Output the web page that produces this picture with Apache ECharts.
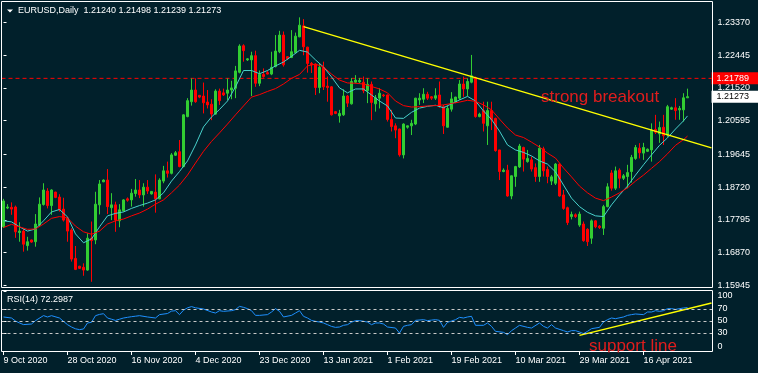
<!DOCTYPE html>
<html><head><meta charset="utf-8">
<script src="https://cdn.jsdelivr.net/npm/echarts@6/dist/echarts.min.js"></script>
<style>html,body{margin:0;padding:0;background:#01202b}#c{width:758px;height:373px}</style>
</head><body><div id="c"></div>
<script>
const symbolName = 'EURUSD,Daily';
const dateLabels = ['9 Oct 2020','28 Oct 2020','16 Nov 2020','4 Dec 2020','23 Dec 2020','13 Jan 2021','1 Feb 2021','19 Feb 2021','10 Mar 2021','29 Mar 2021','16 Apr 2021'];
const LABEL_EVERY = 16;
const SLOTS = 178;

const opens = [1.1760,1.1813,1.1815,1.1816,1.1744,1.1748,1.1707,1.1723,1.1718,1.1765,
1.1823,1.1861,1.1820,1.1858,1.1844,1.1810,1.1784,1.1751,1.1671,1.1649,
1.1646,1.1638,1.1728,1.1723,1.1822,1.1887,1.1892,1.1814,1.1822,1.1777,
1.1805,1.1839,1.1836,1.1854,1.1864,1.1850,1.1872,1.1853,1.1858,1.1839,
1.1889,1.1918,1.1911,1.1962,1.1972,1.1930,1.2071,1.2113,1.2146,1.2131,
1.2129,1.2112,1.2106,1.2078,1.2143,1.2138,1.2137,1.2146,1.2151,1.2196,
1.2271,1.2231,1.2231,1.2243,1.2165,1.2190,1.2195,1.2191,1.2212,1.2254,
1.2301,1.2240,1.2238,1.2251,1.2296,1.2327,1.2267,1.2221,1.2219,1.2153,
1.2210,1.2157,1.2155,1.2085,1.2073,1.2076,1.2129,1.2107,1.2168,1.2169,
1.2168,1.2144,1.2162,1.2107,1.2123,1.2132,1.2132,1.2063,1.2045,1.2036,
1.1963,1.2041,1.2045,1.2050,1.2118,1.2120,1.2134,1.2127,1.2123,1.2132,
1.2099,1.2041,1.2092,1.2113,1.2123,1.2163,1.2149,1.2168,1.2181,1.2071,
1.2088,1.2045,1.2088,1.2066,1.1977,1.1916,1.1920,1.1847,1.1902,1.1929,
1.1984,1.1944,1.1949,1.1927,1.1902,1.1980,1.1922,1.1889,1.1883,1.1937,
1.1850,1.1814,1.1789,1.1794,1.1765,1.1768,1.1753,1.1728,1.1777,1.1762,
1.1756,1.1817,1.1912,1.1869,1.1920,1.1897,1.1902,1.1916,1.1953,1.1982,
1.1968,1.1973,1.1977,1.2035,1.2022,1.2041,1.2019,1.2092,1.2096,1.2090,
1.2090,1.21240];
const highs = [1.1839,1.1824,1.1829,1.1820,1.1773,1.1756,1.1732,1.1724,1.1796,1.1843,
1.1883,1.1869,1.1866,1.1859,1.1852,1.1842,1.1789,1.1756,1.1706,1.1650,
1.1657,1.1742,1.1775,1.1859,1.1892,1.1894,1.1923,1.1855,1.1831,1.1824,
1.1838,1.1843,1.1867,1.1895,1.1892,1.1883,1.1892,1.1861,1.1908,1.1897,
1.1932,1.1944,1.1968,1.1974,1.2005,1.2078,1.2123,1.2179,1.2179,1.2132,
1.2167,1.2146,1.2120,1.2148,1.2150,1.2150,1.2179,1.2172,1.2214,1.2275,
1.2275,1.2236,1.2254,1.2257,1.2201,1.2207,1.2200,1.2254,1.2301,1.2313,
1.2311,1.2242,1.2315,1.2308,1.2351,1.2346,1.2268,1.2225,1.2221,1.2221,
1.2226,1.2184,1.2157,1.2087,1.2090,1.2148,1.2132,1.2180,1.2188,1.2180,
1.2184,1.2179,1.2170,1.2132,1.2151,1.2135,1.2133,1.2090,1.2052,1.2037,
1.2052,1.2046,1.2062,1.2124,1.2137,1.2151,1.2141,1.2129,1.2151,1.2170,
1.2104,1.2101,1.2140,1.2127,1.2174,1.2184,1.2179,1.2245,1.2184,1.2082,
1.2113,1.2113,1.2113,1.2068,1.1977,1.1925,1.1935,1.1905,1.1932,1.1994,
1.1986,1.1977,1.1958,1.1939,1.1991,1.1986,1.1930,1.1906,1.1940,1.1939,
1.1864,1.1817,1.1803,1.1798,1.1803,1.1775,1.1756,1.1781,1.1779,1.1765,
1.1822,1.1883,1.1920,1.1930,1.1925,1.1909,1.1935,1.1963,1.1991,1.1996,
1.1997,1.1981,1.2052,1.2076,1.2057,1.2076,1.2104,1.2099,1.2123,1.2101,
1.2137,1.21498];
const lows = [1.1757,1.1810,1.1794,1.1729,1.1718,1.1690,1.1693,1.1715,1.1704,1.1763,
1.1820,1.1812,1.1794,1.1841,1.1803,1.1775,1.1718,1.1662,1.1638,1.1641,
1.1622,1.1636,1.1605,1.1711,1.1795,1.1886,1.1796,1.1779,1.1746,1.1759,
1.1803,1.1831,1.1817,1.1845,1.1841,1.1817,1.1853,1.1851,1.1800,1.1838,
1.1883,1.1899,1.1908,1.1960,1.1928,1.1928,1.2069,1.2102,1.2110,1.2123,
1.2080,1.2094,1.2061,1.2076,1.2104,1.2129,1.2118,1.2120,1.2123,1.2193,
1.2226,1.2228,1.2129,1.2155,1.2157,1.2181,1.2190,1.2188,1.2210,1.2250,
1.2212,1.2231,1.2236,1.2250,1.2295,1.2244,1.2195,1.2194,1.2132,1.2137,
1.2146,1.2113,1.2074,1.2078,1.2054,1.2073,1.2098,1.2105,1.2165,1.2166,
1.2137,1.2109,1.2061,1.2085,1.2094,1.2126,1.2057,1.2029,1.2010,1.1958,
1.1953,1.2037,1.2019,1.2047,1.2104,1.2109,1.2118,1.2118,1.2118,1.2096,
1.2022,1.2040,1.2085,1.2109,1.2118,1.2127,1.2129,1.2165,1.2068,1.2069,
1.2029,1.1991,1.2033,1.1972,1.1892,1.1914,1.1845,1.1838,1.1873,1.1926,
1.1916,1.1941,1.1916,1.1887,1.1887,1.1902,1.1883,1.1878,1.1878,1.1845,
1.1808,1.1765,1.1781,1.1785,1.1760,1.1718,1.1706,1.1712,1.1756,1.1754,
1.1737,1.1815,1.1862,1.1864,1.1869,1.1892,1.1869,1.1885,1.1949,1.1953,
1.1949,1.1971,1.1944,1.2022,1.1997,1.1991,1.2014,1.2090,1.2062,1.2062,
1.2057,1.21239];
const closes = [1.1833,1.1816,1.1810,1.1746,1.1748,1.1711,1.1718,1.1717,1.1768,1.1824,
1.1864,1.1820,1.1864,1.1843,1.1808,1.1779,1.1748,1.1669,1.1640,1.1643,
1.1638,1.1728,1.1721,1.1824,1.1881,1.1892,1.1817,1.1822,1.1779,1.1808,
1.1836,1.1835,1.1855,1.1864,1.1850,1.1872,1.1861,1.1860,1.1839,1.1892,
1.1918,1.1911,1.1963,1.1969,1.1930,1.2076,1.2116,1.2146,1.2113,1.2126,
1.2110,1.2104,1.2078,1.2143,1.2116,1.2132,1.2146,1.2152,1.2200,1.2270,
1.2257,1.2234,1.2243,1.2165,1.2190,1.2184,1.2191,1.2210,1.2256,1.2301,
1.2217,1.2234,1.2254,1.2298,1.2329,1.2268,1.2221,1.2218,1.2153,1.2210,
1.2155,1.2153,1.2076,1.2080,1.2080,1.2129,1.2109,1.2170,1.2174,1.2173,
1.2144,1.2162,1.2111,1.2124,1.2137,1.2130,1.2063,1.2043,1.2033,1.1963,
1.2050,1.2045,1.2052,1.2123,1.2123,1.2134,1.2123,1.2123,1.2130,1.2099,
1.2045,1.2094,1.2121,1.2126,1.2163,1.2149,1.2170,1.2186,1.2071,1.2078,
1.2052,1.2088,1.2062,1.1975,1.1916,1.1920,1.1847,1.1904,1.1930,1.1988,
1.1951,1.1953,1.1923,1.1902,1.1982,1.1918,1.1902,1.1901,1.1937,1.1847,
1.1812,1.1772,1.1795,1.1789,1.1796,1.1721,1.1718,1.1777,1.1760,1.1758,
1.1817,1.1873,1.1869,1.1918,1.1897,1.1904,1.1913,1.1956,1.1984,1.1969,
1.1984,1.1979,1.2033,1.2027,1.2040,1.2017,1.2099,1.2096,1.2088,1.2094,
1.2124,1.21273];

// moving averages read every 2nd bar (bar 0, 2, 4, ...), plus the last bar
const fastMA = [1.1777,1.1774,1.1760,1.1748,1.1754,1.1777,1.1802,1.1809,1.1788,1.1740,
1.1715,1.1726,1.1760,1.1791,1.1798,1.1802,1.1812,1.1820,1.1827,1.1836,
1.1856,1.1889,1.1916,1.1946,1.1991,1.2042,1.2070,1.2091,1.2115,1.2155,
1.2201,1.2201,1.2192,1.2201,1.2214,1.2225,1.2241,1.2258,1.2253,1.2231,
1.2211,1.2183,1.2152,1.2138,1.2149,1.2149,1.2132,1.2115,1.2101,1.2067,
1.2066,1.2083,1.2095,1.2100,1.2103,1.2096,1.2107,1.2118,1.2128,1.2115,
1.2087,1.2063,1.2030,1.1991,1.1977,1.1970,1.1960,1.1946,1.1937,1.1915,
1.1878,1.1841,1.1817,1.1801,1.1791,1.1789,1.1822,1.1850,1.1875,1.1906,
1.1935,1.1963,1.1990,1.2011,1.2036,1.2059];
const fastMALast = 1.2073;
const slowMA = [1.1758,1.1767,1.1760,1.1753,1.1754,1.1768,1.1784,1.1789,1.1785,1.1762,
1.1746,1.1739,1.1748,1.1768,1.1777,1.1782,1.1791,1.1799,1.1810,1.1824,
1.1836,1.1856,1.1878,1.1906,1.1940,1.1973,1.2001,1.2025,1.2050,1.2076,
1.2101,1.2126,1.2133,1.2142,1.2150,1.2163,1.2179,1.2190,1.2214,1.2219,
1.2211,1.2191,1.2174,1.2166,1.2165,1.2163,1.2156,1.2149,1.2138,1.2115,
1.2102,1.2098,1.2099,1.2101,1.2102,1.2104,1.2108,1.2112,1.2117,1.2114,
1.2104,1.2090,1.2064,1.2039,1.2019,1.2012,1.1999,1.1985,1.1968,1.1954,
1.1926,1.1901,1.1875,1.1856,1.1841,1.1834,1.1844,1.1856,1.1870,1.1889,
1.1906,1.1925,1.1944,1.1966,1.1990,1.2006];
const slowMALast = 1.2016;

const rsi14 = [56.7,null,55,50,46.7,44,null,45,50.6,null,
59,56.7,58.9,null,55,49.4,43.9,40,37,35.6,
36.7,46.7,47.8,58.9,61,62.2,55,53,51,53,
55,56.1,57.2,58,58.9,null,56.7,null,55,60.6,
null,62.5,66.5,67.2,60.6,68,72,74,72,null,
70,null,65,63.3,67.2,66.1,null,67.2,69,74.4,
72.8,70.6,67.2,59.4,59.4,null,60.6,65,70.6,66.1,
56.7,null,59.4,63.3,67.2,57.8,55,51,49.4,48.3,
46.7,43.9,41,39.4,40,42.8,43.9,48,50.6,50.6,
null,48.3,43.9,46.7,46.7,45,40,null,38.3,30,
41.1,42.8,43.9,51.1,null,52.2,50.6,51.5,52.2,51.1,
39.4,47.8,50,52.2,56.1,55,56.7,57.8,42.8,null,
42.8,46.7,41.1,32.8,null,31.1,27.2,33.9,38.3,42.8,
null,39.4,38.3,null,46.7,41.1,38.3,43.9,38.3,null,
33.9,31.7,33.9,33.9,31.7,28.9,32.8,37.2,null,39.4,
48.3,52.2,55,53.9,null,56.7,59.4,60.6,61.7,null,
60.6,65,65,67.2,66.1,67.2,70.6,70.6,69.4,null,
71.7,72.3];
const rsiLast = 72.2987;

const priceTicks = [1.15945,1.16870,1.17795,1.18720,1.19645,1.20595,1.21520,1.22445,1.23370];
const priceMin = 1.15903, priceMax = 1.23943;
const rsiTicks = [0,30,50,70,100];
const rsiLevels = [30,50,70];
const resistanceLevel = 1.21789;
const trendLine = [[75, 1.2325],[177, 1.1983]];   // [bar, price]
const supportLine = [[144, 26],[177, 80]];        // [bar, RSI]

// ---------- build ----------
const BG = '#01202b';
const FONT = 'Liberation Sans, Arial, sans-serif';
const categories = Array.from({length: SLOTS}, (_, i) => String(i));
const showLabel = (i) => i % LABEL_EVERY === 0 && i / LABEL_EVERY < dateLabels.length;
const candles = opens.map((o, i) => [o, closes[i], lows[i], highs[i]]);
function spread(sampled, last) {
  const a = new Array(opens.length).fill(null);
  sampled.forEach((v, j) => { a[2 * j] = v; });
  a[opens.length - 1] = last;
  return a;
}
const n = opens.length - 1;
const lastPrice = closes[n];
const titleText = symbolName + '  ' + [opens[n], highs[n], lows[n], closes[n]].map(v => v.toFixed(5)).join(' ');
function boxAxis(value, bg, fg) {
  return {type: 'value', gridIndex: 0, position: 'right', offset: -2, min: priceMin, max: priceMax,
    axisLine: {show: false}, splitLine: {show: false}, axisTick: {show: false},
    axisLabel: {customValues: [value], formatter: (v) => v.toFixed(5), color: fg, backgroundColor: bg,
      padding: [2, 10, 1, 5], fontSize: 9, fontFamily: FONT, margin: 0}};
}

const chart = echarts.init(document.getElementById('c'), null, {renderer: 'canvas'});
chart.setOption({
  backgroundColor: BG,
  animation: false,
  grid: [
    {left: 1.5, width: 712, top: 2, bottom: 86, show: false, containLabel: false, outerBoundsMode: 'none'},
    {left: 1.5, width: 712, top: 291, bottom: 22, show: false, containLabel: false, outerBoundsMode: 'none'}
  ],
  xAxis: [
    {type: 'category', gridIndex: 0, data: categories, show: false, boundaryGap: true},
    {type: 'category', gridIndex: 1, data: categories, boundaryGap: true, position: 'bottom',
      axisLine: {show: false},
      axisTick: {show: true, alignWithLabel: true, interval: (i) => showLabel(i), length: 4, lineStyle: {color: '#ffffff'}},
      axisLabel: {interval: (i) => showLabel(i), formatter: (v) => showLabel(+v) ? dateLabels[+v / LABEL_EVERY] : '',
        align: 'left', color: '#ffffff', fontSize: 9, fontFamily: FONT, margin: 5},
      splitLine: {show: false}},
    {type: 'value', gridIndex: 0, min: -0.5, max: SLOTS - 0.5, show: false},
    {type: 'value', gridIndex: 1, min: -0.5, max: SLOTS - 0.5, show: false}
  ],
  yAxis: [
    {type: 'value', gridIndex: 0, position: 'right', offset: -2, min: priceMin, max: priceMax,
      axisLine: {show: false}, splitLine: {show: false},
      axisTick: {show: true, length: 3, customValues: priceTicks, lineStyle: {color: '#ffffff'}},
      axisLabel: {customValues: priceTicks, formatter: (v) => v.toFixed(5), color: '#ffffff', fontSize: 9, fontFamily: FONT, margin: 6}},
    {type: 'value', gridIndex: 1, position: 'right', offset: -2, min: 0, max: 100,
      axisLine: {show: false}, splitLine: {show: false},
      axisTick: {show: true, length: 3, customValues: rsiTicks, lineStyle: {color: '#ffffff'}},
      axisLabel: {customValues: rsiTicks, color: '#ffffff', fontSize: 9, fontFamily: FONT, margin: 6,
        verticalAlignMinLabel: 'bottom', verticalAlignMaxLabel: 'top'}},
    boxAxis(resistanceLevel, '#ff0000', '#ffffff'),
    boxAxis(lastPrice, '#ffffff', '#000000')
  ],
  series: [
    {type: 'line', name: 'level', xAxisIndex: 2, yAxisIndex: 0, symbol: 'none', silent: true,
      data: [[-0.5, resistanceLevel], [SLOTS - 0.5, resistanceLevel]],
      lineStyle: {color: '#ff0000', type: [4, 3], width: 1}, z: 1},
    {type: 'candlestick', xAxisIndex: 0, yAxisIndex: 0, data: candles, barWidth: 2,
      itemStyle: {color: '#32cd32', color0: '#ff0000', borderColor: '#32cd32', borderColor0: '#ff0000', borderWidth: 1}},
    {type: 'line', name: 'fast MA', xAxisIndex: 0, yAxisIndex: 0, data: spread(fastMA, fastMALast), connectNulls: true,
      symbol: 'none', lineStyle: {color: '#48d1cc', width: 1}, z: 3},
    {type: 'line', name: 'slow MA', xAxisIndex: 0, yAxisIndex: 0, data: spread(slowMA, slowMALast), connectNulls: true,
      symbol: 'none', lineStyle: {color: '#ff0000', width: 1}, z: 3},
    {type: 'line', name: 'trend', xAxisIndex: 2, yAxisIndex: 0, data: trendLine, symbol: 'none',
      lineStyle: {color: '#ffff00', width: 1.4}, z: 4},
    {type: 'line', name: 'RSI', xAxisIndex: 1, yAxisIndex: 1, data: rsi14, connectNulls: true, symbol: 'none',
      lineStyle: {color: '#1e90ff', width: 1},
      markLine: {silent: true, symbol: ['none', 'none'], animation: false, label: {show: false},
        lineStyle: {color: '#c8c8c8', type: [3, 3], width: 1},
        data: rsiLevels.map(v => ({yAxis: v}))}},
    {type: 'line', name: 'support', xAxisIndex: 3, yAxisIndex: 1, data: supportLine, symbol: 'none',
      lineStyle: {color: '#ffff00', width: 1.4}, z: 4}
  ],
  graphic: [
    {type: 'rect', shape: {x: 1.5, y: 1.5, width: 711, height: 286}, style: {fill: null, stroke: '#ffffff', lineWidth: 1}, z: 50},
    {type: 'rect', shape: {x: 1.5, y: 290.5, width: 711, height: 61}, style: {fill: null, stroke: '#ffffff', lineWidth: 1}, z: 50},
    {type: 'polygon', shape: {points: [[7, 9.5], [13, 9.5], [10, 12.5]]}, style: {fill: '#ffffff'}, z: 50},
    {type: 'text', x: 18, y: 11, style: {text: titleText, fill: '#ffffff', fontSize: 9, fontFamily: FONT, textVerticalAlign: 'middle'}, z: 50},
    {type: 'text', x: 7, y: 300, style: {text: 'RSI(14) ' + rsiLast.toFixed(4), fill: '#ffffff', fontSize: 9, fontFamily: FONT, textVerticalAlign: 'middle'}, z: 50},
    {type: 'text', x: 541, y: 97, style: {text: 'strong breakout', fill: '#e11d1d', fontSize: 17, fontFamily: FONT, textVerticalAlign: 'middle'}, z: 50},
    {type: 'text', x: 589, y: 346.5, style: {text: 'support line', fill: '#e11d1d', fontSize: 17, fontFamily: FONT, textVerticalAlign: 'middle'}, z: 50},
    {type: 'rect', shape: {x: 603, y: 352.5, width: 23, height: 4}, style: {fill: BG}, z: 60}
  ]
});
</script>
</body></html>
